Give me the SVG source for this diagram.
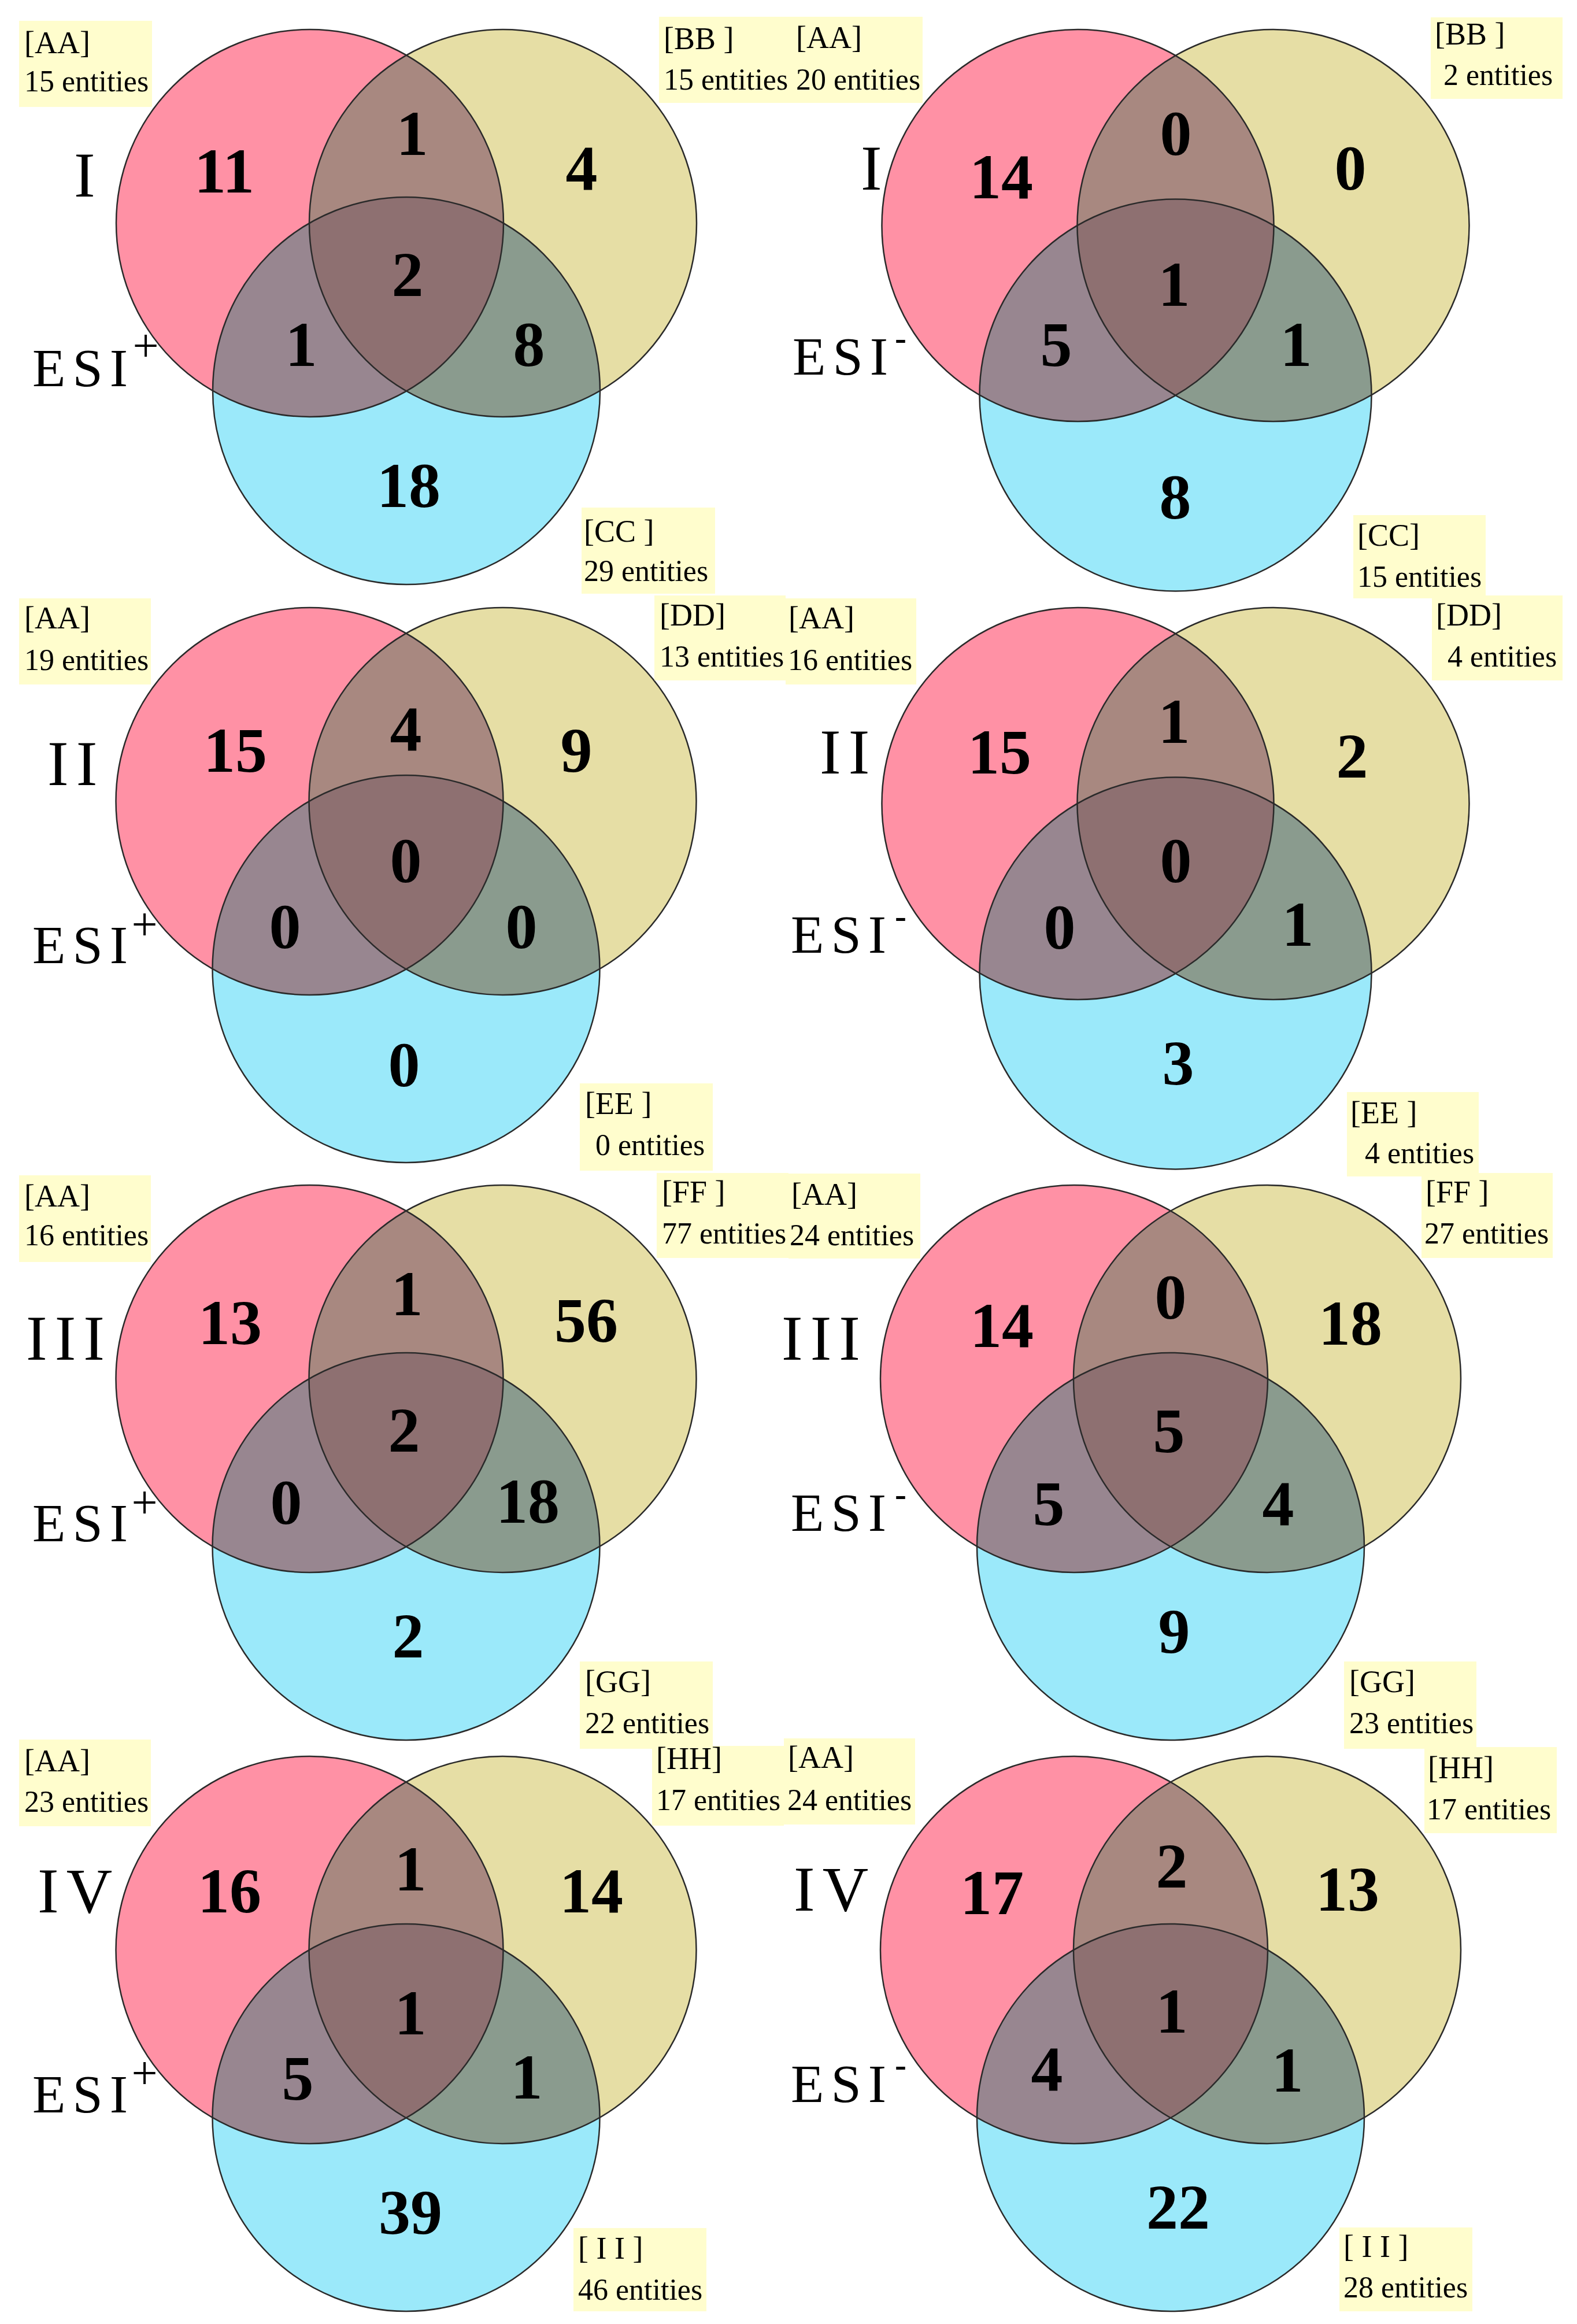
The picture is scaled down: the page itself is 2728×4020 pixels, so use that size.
<svg xmlns="http://www.w3.org/2000/svg" xmlns:xlink="http://www.w3.org/1999/xlink" width="2728" height="4020" viewBox="0 0 2728 4020">
<style>
text{font-family:"Liberation Serif","Times New Roman",serif;fill:#000}
.num{font-size:110px;font-weight:bold;text-anchor:middle}
.l1{font-size:54px}
.l2{font-size:52px}
.box{fill:#FFFDCD}
.rom{font-size:110px;letter-spacing:13px}
.esi{font-size:94px;letter-spacing:12px}
.sup{font-size:80px;text-anchor:middle}
.sub{font-size:60px;text-anchor:middle;font-weight:bold}
.ol{fill:none;stroke:#2a2a2a;stroke-width:2.5}
</style>
<defs>
<circle id="cA" cx="-167" cy="0" r="335"/>
<circle id="cB" cx="167" cy="0" r="335"/>
<circle id="cC" cx="0" cy="290" r="335"/>
<clipPath id="clipA"><use href="#cA"/></clipPath>
<clipPath id="clipB"><use href="#cB"/></clipPath>
<g id="venn">
<use href="#cA" fill="#FF91A5"/>
<use href="#cB" fill="#E6DEA5"/>
<use href="#cC" fill="#9BE9FA"/>
<use href="#cB" fill="#A88880" clip-path="url(#clipA)"/>
<use href="#cC" fill="#988690" clip-path="url(#clipA)"/>
<use href="#cC" fill="#8A9B8E" clip-path="url(#clipB)"/>
<g clip-path="url(#clipA)"><use href="#cC" fill="#8E7071" clip-path="url(#clipB)"/></g>
<use href="#cA" class="ol"/>
<use href="#cB" class="ol"/>
<use href="#cC" class="ol"/>
</g>
</defs>
<rect width="2728" height="4020" fill="#ffffff"/>

<!-- Row I, ESI+ -->
<g id="panel-I-pos">
<use href="#venn" transform="translate(703,386)"/>
<text class="rom" x="128" y="340">I</text>
<text class="esi" x="56" y="668">ESI</text><text class="sup" x="252" y="625">+</text>
<text class="num" x="388" y="333">11</text>
<text class="num" x="713" y="268">1</text>
<text class="num" x="1006" y="328">4</text>
<text class="num" x="705" y="512">2</text>
<text class="num" x="521" y="633">1</text>
<text class="num" x="915" y="633">8</text>
<text class="num" x="707" y="877">18</text>
<g id="lab-I-pos-AA"><rect class="box" x="33" y="36" width="230" height="149"/><text class="l1" x="42" y="92">[AA]</text><text class="l2" x="42" y="158">15 entities</text></g>
<g id="lab-I-pos-BB"><rect class="box" x="1140" y="29" width="228" height="149"/><text class="l1" x="1148" y="85">[BB ]</text><text class="l2" x="1148" y="155">15 entities</text></g>
<g id="lab-I-pos-CC"><rect class="box" x="1006" y="878" width="231" height="149"/><text class="l1" x="1010" y="937">[CC ]</text><text class="l2" x="1010" y="1005">29 entities</text></g>
</g>

<!-- Row I, ESI- -->
<g id="panel-I-neg">
<use href="#venn" transform="translate(2033.5,390) scale(1.012)"/>
<text class="rom" x="1489" y="328">I</text>
<text class="esi" x="1371" y="648">ESI</text><text class="sub" x="1558" y="604">-</text>
<text class="num" x="1732" y="343">14</text>
<text class="num" x="2034" y="268">0</text>
<text class="num" x="2336" y="328">0</text>
<text class="num" x="2031" y="529">1</text>
<text class="num" x="1827" y="633">5</text>
<text class="num" x="2242" y="633">1</text>
<text class="num" x="2033" y="897">8</text>
<g id="lab-I-neg-AA"><rect class="box" x="1368" y="29" width="228" height="149"/><text class="l1" x="1377" y="83">[AA]</text><text class="l2" x="1377" y="155">20 entities</text></g>
<g id="lab-I-neg-BB"><rect class="box" x="2475" y="30" width="228" height="141"/><text class="l1" x="2482" y="77">[BB ]</text><text class="l2" x="2497" y="147">2 entities</text></g>
<g id="lab-I-neg-CC"><rect class="box" x="2341" y="891" width="229" height="144"/><text class="l1" x="2348" y="944">[CC]</text><text class="l2" x="2348" y="1015">15 entities</text></g>
</g>

<!-- Row II, ESI+ -->
<g id="panel-II-pos">
<use href="#venn" transform="translate(702.5,1386)"/>
<text class="rom" x="82" y="1358">II</text>
<text class="esi" x="56" y="1666">ESI</text><text class="sup" x="250" y="1626">+</text>
<text class="num" x="407" y="1335">15</text>
<text class="num" x="702" y="1298">4</text>
<text class="num" x="997" y="1335">9</text>
<text class="num" x="702" y="1526">0</text>
<text class="num" x="493" y="1640">0</text>
<text class="num" x="902" y="1640">0</text>
<text class="num" x="699" y="1879">0</text>
<g id="lab-II-pos-AA"><rect class="box" x="33" y="1035" width="228" height="149"/><text class="l1" x="42" y="1087">[AA]</text><text class="l2" x="42" y="1159">19 entities</text></g>
<g id="lab-II-pos-DD"><rect class="box" x="1132" y="1030" width="227" height="147"/><text class="l1" x="1141" y="1082">[DD]</text><text class="l2" x="1141" y="1153">13 entities</text></g>
<g id="lab-II-pos-EE"><rect class="box" x="1003" y="1874" width="230" height="151"/><text class="l1" x="1012" y="1927">[EE ]</text><text class="l2" x="1030" y="1998">0 entities</text></g>
</g>

<!-- Row II, ESI- -->
<g id="panel-II-neg">
<use href="#venn" transform="translate(2033.5,1390) scale(1.012)"/>
<text class="rom" x="1418" y="1338">II</text>
<text class="esi" x="1368" y="1648">ESI</text><text class="sub" x="1558" y="1604">-</text>
<text class="num" x="1729" y="1338">15</text>
<text class="num" x="2031" y="1285">1</text>
<text class="num" x="2339" y="1345">2</text>
<text class="num" x="2034" y="1526">0</text>
<text class="num" x="1833" y="1641">0</text>
<text class="num" x="2245" y="1636">1</text>
<text class="num" x="2038" y="1876">3</text>
<g id="lab-II-neg-AA"><rect class="box" x="1359" y="1035" width="226" height="149"/><text class="l1" x="1364" y="1087">[AA]</text><text class="l2" x="1363" y="1159">16 entities</text></g>
<g id="lab-II-neg-DD"><rect class="box" x="2477" y="1030" width="226" height="147"/><text class="l1" x="2484" y="1082">[DD]</text><text class="l2" x="2504" y="1153">4 entities</text></g>
<g id="lab-II-neg-EE"><rect class="box" x="2330" y="1889" width="228" height="146"/><text class="l1" x="2336" y="1943">[EE ]</text><text class="l2" x="2361" y="2012">4 entities</text></g>
</g>

<!-- Row III, ESI+ -->
<g id="panel-III-pos">
<use href="#venn" transform="translate(702.5,2385)"/>
<text class="rom" x="45" y="2352">III</text>
<text class="esi" x="56" y="2666">ESI</text><text class="sup" x="250" y="2626">+</text>
<text class="num" x="398" y="2325">13</text>
<text class="num" x="704" y="2275">1</text>
<text class="num" x="1014" y="2321">56</text>
<text class="num" x="699" y="2511">2</text>
<text class="num" x="495" y="2636">0</text>
<text class="num" x="913" y="2634">18</text>
<text class="num" x="706" y="2867">2</text>
<g id="lab-III-pos-AA"><rect class="box" x="33" y="2033" width="228" height="150"/><text class="l1" x="42" y="2087">[AA]</text><text class="l2" x="42" y="2154">16 entities</text></g>
<g id="lab-III-pos-FF"><rect class="box" x="1136" y="2029" width="228" height="147"/><text class="l1" x="1145" y="2080">[FF ]</text><text class="l2" x="1145" y="2151">77 entities</text></g>
<g id="lab-III-pos-GG"><rect class="box" x="1003" y="2874" width="230" height="151"/><text class="l1" x="1012" y="2927">[GG]</text><text class="l2" x="1012" y="2998">22 entities</text></g>
</g>

<!-- Row III, ESI- -->
<g id="panel-III-neg">
<use href="#venn" transform="translate(2025,2385)"/>
<text class="rom" x="1352" y="2352">III</text>
<text class="esi" x="1368" y="2648">ESI</text><text class="sub" x="1558" y="2604">-</text>
<text class="num" x="1733" y="2330">14</text>
<text class="num" x="2025" y="2281">0</text>
<text class="num" x="2336" y="2326">18</text>
<text class="num" x="2022" y="2512">5</text>
<text class="num" x="1814" y="2638">5</text>
<text class="num" x="2211" y="2638">4</text>
<text class="num" x="2031" y="2859">9</text>
<g id="lab-III-neg-AA"><rect class="box" x="1364" y="2030" width="228" height="147"/><text class="l1" x="1369" y="2084">[AA]</text><text class="l2" x="1366" y="2154">24 entities</text></g>
<g id="lab-III-neg-FF"><rect class="box" x="2459" y="2029" width="227" height="147"/><text class="l1" x="2466" y="2080">[FF ]</text><text class="l2" x="2464" y="2151">27 entities</text></g>
<g id="lab-III-neg-GG"><rect class="box" x="2325" y="2874" width="229" height="151"/><text class="l1" x="2334" y="2927">[GG]</text><text class="l2" x="2334" y="2998">23 entities</text></g>
</g>

<!-- Row IV, ESI+ -->
<g id="panel-IV-pos">
<use href="#venn" transform="translate(702.5,3373)"/>
<text class="rom" x="65" y="3308">IV</text>
<text class="esi" x="56" y="3654">ESI</text><text class="sup" x="250" y="3613">+</text>
<text class="num" x="397" y="3308">16</text>
<text class="num" x="710" y="3270">1</text>
<text class="num" x="1023" y="3308">14</text>
<text class="num" x="710" y="3519">1</text>
<text class="num" x="515" y="3632">5</text>
<text class="num" x="911" y="3630">1</text>
<text class="num" x="710" y="3864">39</text>
<g id="lab-IV-pos-AA"><rect class="box" x="33" y="3009" width="228" height="150"/><text class="l1" x="42" y="3064">[AA]</text><text class="l2" x="42" y="3134">23 entities</text></g>
<g id="lab-IV-pos-HH"><rect class="box" x="1128" y="3020" width="228" height="138"/><text class="l1" x="1135" y="3060">[HH]</text><text class="l2" x="1135" y="3131">17 entities</text></g>
<g id="lab-IV-pos-II"><rect class="box" x="992" y="3854" width="230" height="144"/><text class="l1" x="1000" y="3907">[ I I ]</text><text class="l2" x="1000" y="3978">46 entities</text></g>
</g>

<!-- Row IV, ESI- -->
<g id="panel-IV-neg">
<use href="#venn" transform="translate(2025,3373)"/>
<text class="rom" x="1373" y="3305">IV</text>
<text class="esi" x="1368" y="3636">ESI</text><text class="sub" x="1558" y="3591">-</text>
<text class="num" x="1716" y="3311">17</text>
<text class="num" x="2027" y="3265">2</text>
<text class="num" x="2331" y="3305">13</text>
<text class="num" x="2027" y="3516">1</text>
<text class="num" x="1811" y="3616">4</text>
<text class="num" x="2227" y="3618">1</text>
<text class="num" x="2038" y="3855">22</text>
<g id="lab-IV-neg-AA"><rect class="box" x="1356" y="3007" width="227" height="149"/><text class="l1" x="1363" y="3058">[AA]</text><text class="l2" x="1362" y="3131">24 entities</text></g>
<g id="lab-IV-neg-HH"><rect class="box" x="2464" y="3022" width="229" height="149"/><text class="l1" x="2470" y="3076">[HH]</text><text class="l2" x="2468" y="3147">17 entities</text></g>
<g id="lab-IV-neg-II"><rect class="box" x="2317" y="3853" width="230" height="145"/><text class="l1" x="2324" y="3904">[ I I ]</text><text class="l2" x="2324" y="3974">28 entities</text></g>
</g>
</svg>
